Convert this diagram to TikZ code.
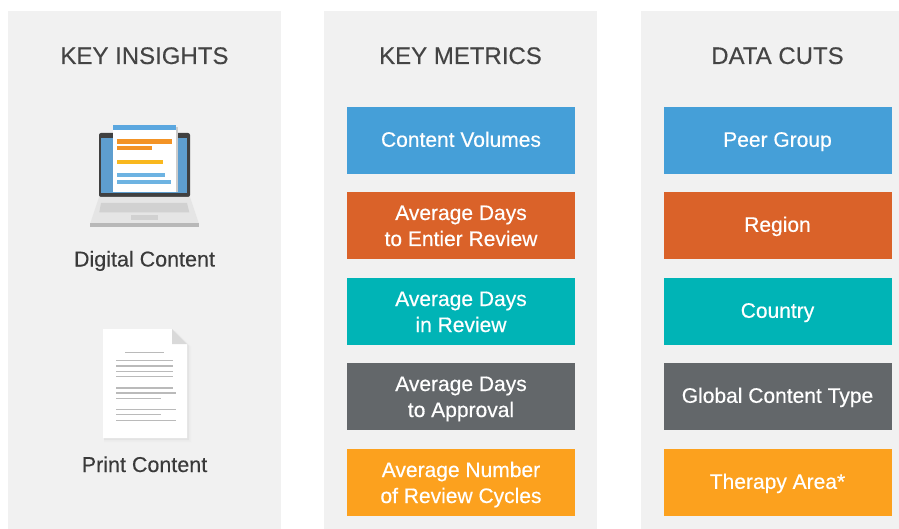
\documentclass[tikz,border=0pt]{standalone}
\usepackage{fontspec}
\usepackage{xcolor}
\usepackage{tikz}
\setmainfont{Liberation Sans}
\newfontface\metricface[FakeBold=0.45]{Liberation Sans}
\newfontface\headface[FakeBold=0.25]{Liberation Sans}

\definecolor{panelgray}{HTML}{F1F1F1}
\definecolor{headgray}{HTML}{444444}
\definecolor{cutblue}{HTML}{459FD8}
\definecolor{cutred}{HTML}{DA6229}
\definecolor{cutteal}{HTML}{00B4B6}
\definecolor{cutslate}{HTML}{63676A}
\definecolor{cutamber}{HTML}{FCA11E}
\definecolor{screenblue}{HTML}{5E9ECF}
\definecolor{paperblue}{HTML}{5BA7DF}
\definecolor{barorange}{HTML}{F39325}
\definecolor{baryellow}{HTML}{F9B81E}
\definecolor{barblue}{HTML}{6DB3E2}

\newcommand\mtext[1]{\rule{0pt}{19.4pt}#1\rule[-4.4pt]{0pt}{0pt}}
\newcommand\stext[1]{\rule{0pt}{17pt}#1\rule[-4.4pt]{0pt}{0pt}}

\tikzset{
  metric/.style={fill=#1, minimum width=228pt, minimum height=67pt, inner sep=0pt,
    text=white, align=center, font=\metricface\fontsize{21}{26}\selectfont},
  heading/.style={text=headgray, anchor=base, font=\headface\fontsize{24}{28}\selectfont},
  caption/.style={text=headgray!85!black, anchor=base, font=\headface\fontsize{21.5}{24}\selectfont},
  docline/.style={draw=black!27, line width=1.1pt},
}

\begin{document}
\begin{tikzpicture}[x=1pt,y=-1pt]
    \useasboundingbox (0,0) rectangle (899,529);
    \fill[panelgray] (8,11) rectangle (281,529);
    \fill[panelgray] (324,11) rectangle (597,529);
    \fill[panelgray] (641,11) rectangle (899,529);

    \node[heading] (insights) at (144.5,64) {KEY INSIGHTS};
    \node[heading] (metrics) at (460.5,64) {KEY METRICS};
    \node[heading] (cuts) at (777.5,64) {DATA CUTS};

    \fill[rounded corners=2pt,black!75] (99,133) rectangle (190,197);
    \fill[screenblue] (101,138) rectangle (187,193);
    \fill[black!20] (176,127) rectangle (177.5,192);
    \fill[white] (113,125) rectangle (176,192);
    \fill[paperblue] (113,125) rectangle (176,130);
    \fill[barorange] (117,139.5) rectangle (171.5,143.7);
    \fill[barorange] (117,145.8) rectangle (152,150.3);
    \fill[baryellow] (117,160) rectangle (162.5,164.3);
    \fill[barblue] (117,172.7) rectangle (165,177.3);
    \fill[barblue] (117,179.7) rectangle (171,184);
    \fill[black!10] (99,197) -- (190,197) -- (199,224) -- (90,224) -- cycle;
    \fill[black!28] (90,223.5) rectangle (199,227);
    \fill[black!18] (101,203) -- (187,203) -- (189.3,212.3) -- (99.3,212.3) -- cycle;
    \fill[black!18] (131,215) rectangle (158,220);
    \node[caption] (digital) at (144.5,266.5) {Digital Content};

    \fill[black!7] (104,331) -- (175,331) -- (191,347) -- (191,442) -- (104,442) -- cycle;
    \fill[black!11] (104,331) -- (174,331) -- (189,346) -- (189,440) -- (104,440) -- cycle;
    \fill[white] (103,329) -- (172,329) -- (187,344) -- (187,438) -- (103,438) -- cycle;
    \fill[black!15] (172,329) -- (187,344) -- (172,344) -- cycle;
    \draw[docline] (125,352.3) -- (164,352.3);
    \foreach \y in {360.7,366,371.3,376.7,388}
      \draw[docline] (116,\y) -- (172.7,\y);
    \draw[docline] (116,393) -- (176,393);
    \draw[docline] (116,398.7) -- (161,398.7);
    \draw[docline] (116,409.3) -- (176,409.3);
    \draw[docline] (116,414.7) -- (161,414.7);
    \draw[docline] (116,420.3) -- (176,420.3);
    \node[caption] (print) at (144.5,472) {Print Content};

    \node[metric=cutblue] (volumes) at (461,140.5) {\stext{Content Volumes}};
    \node[metric=cutred] (entier) at (461,225.5) {\mtext{Average Days\\to Entier Review}};
    \node[metric=cutteal] (inreview) at (461,311.5) {\mtext{Average Days\\in Review}};
    \node[metric=cutslate] (approval) at (461,396.5) {\mtext{Average Days\\to Approval}};
    \node[metric=cutamber] (cycles) at (461,482.5) {\mtext{Average Number\\of Review Cycles}};

    \node[metric=cutblue] (peer) at (777.5,140.5) {\stext{Peer Group}};
    \node[metric=cutred] (region) at (777.5,225.5) {\stext{Region}};
    \node[metric=cutteal] (country) at (777.5,311.5) {\stext{Country}};
    \node[metric=cutslate] (global) at (777.5,396.5) {\stext{Global Content Type}};
    \node[metric=cutamber] (therapy) at (777.5,482.5) {\stext{Therapy Area*}};
\end{tikzpicture}
\end{document}
